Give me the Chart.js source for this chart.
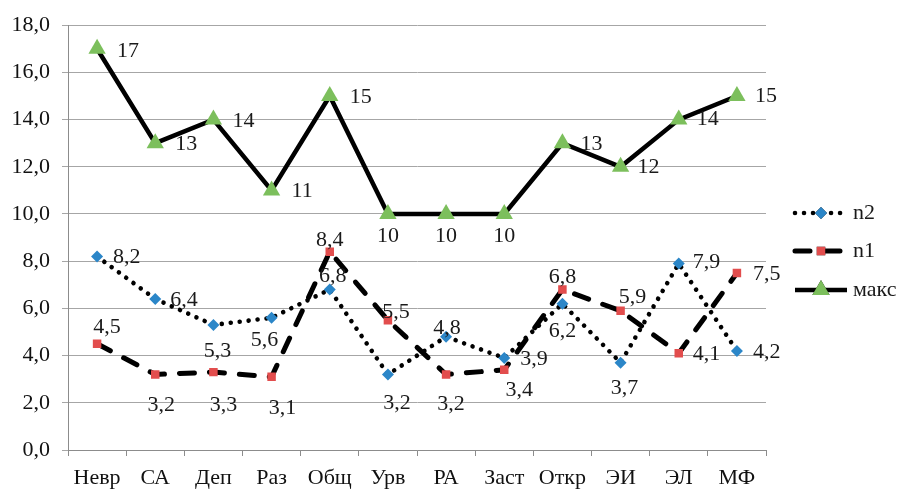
<!DOCTYPE html>
<html>
<head>
<meta charset="utf-8">
<script src="https://cdn.jsdelivr.net/npm/chart.js@4/dist/chart.umd.min.js"></script>
<style>
  html, body { margin: 0; padding: 0; background: #fff; }
  #wrap { width: 901px; height: 491px; position: relative; }
</style>
</head>
<body>
<div id="wrap"><canvas id="c" width="901" height="491"></canvas></div>
<script>
// Scale categories
const categories = ['Невр', 'СА', 'Деп', 'Раз', 'Общ', 'Урв', 'РА', 'Заст', 'Откр', 'ЭИ', 'ЭЛ', 'МФ'];

// Series values
const n2Values = [8.2, 6.4, 5.3, 5.6, 6.8, 3.2, 4.8, 3.9, 6.2, 3.7, 7.9, 4.2];
const n1Values = [4.5, 3.2, 3.3, 3.1, 8.4, 5.5, 3.2, 3.4, 6.8, 5.9, 4.1, 7.5];
const maxValues = [17, 13, 14, 11, 15, 10, 10, 10, 13, 12, 14, 15];

// Value axis
const yMin = 0, yMax = 18, yStep = 2;

// Where each value label sits relative to its point: [align, dx, dy]
// 'l' = text starts at dx, 'c' = text centred on dx
const n2LabelAt = [['l',16,1],['l',15,1],['c',4,26],['c',-7,22],['c',3,-13],['c',9,29],['c',1,-9],['l',16,1],['c',0,28],['c',4,26],['l',14,-1],['l',16,1]];
const n1LabelAt = [['c',10,-17],['c',6,31],['c',10,33],['c',11,31],['c',0,-12],['c',8,-8],['c',5,30],['c',15,20],['c',0,-12],['c',12,-14],['l',14,1],['l',16,1]];
const maxLabelAt = [['l',20,2],['l',20,1],['l',19,2],['l',20,1],['l',20,1],['c',0,22],['c',0,22],['c',0,22],['l',18,1],['l',17,0],['l',18,0],['l',18,0]];

const FONT = "'Liberation Serif', 'Times New Roman', serif";
const BLUE = '#2B86C8', RED = '#E24D4D', GREEN = '#7CBF5C';
const fmt = v => v.toFixed(1).replace('.', ',');
const fmtLabel = v => (Number.isInteger(v) ? String(v) : fmt(v));

const valueLabels = {
  id: 'valueLabels',
  afterDatasetsDraw(chart) {
    const ctx = chart.ctx;
    ctx.save();
    ctx.font = '22px ' + FONT;
    ctx.fillStyle = '#1a1a1a';
    ctx.textBaseline = 'middle';
    chart.data.datasets.forEach((ds, di) => {
      const meta = chart.getDatasetMeta(di);
      meta.data.forEach((pt, i) => {
        const [al, dx, dy] = ds.labelAt[i];
        ctx.textAlign = al === 'l' ? 'left' : 'center';
        ctx.fillText(fmtLabel(ds.data[i]), pt.x + dx, pt.y + dy);
      });
    });
    ctx.restore();
  }
};

const sideLegend = {
  id: 'sideLegend',
  afterDraw(chart) {
    const ctx = chart.ctx;
    const x0 = 795, x1 = 847, xm = 821, tx = 853;
    const rows = [213, 251, 290];
    chart.data.datasets.forEach((ds, di) => {
      const y = rows[di];
      ctx.save();
      ctx.strokeStyle = '#000';
      ctx.lineWidth = ds.borderWidth;
      ctx.lineCap = ds.borderCapStyle || 'butt';
      ctx.setLineDash(ds.borderDash || []);
      ctx.beginPath();
      ctx.moveTo(x0, y);
      ctx.lineTo(x1, y);
      ctx.stroke();
      ctx.setLineDash([]);
      Chart.helpers.drawPoint(ctx, {
        pointStyle: ds.pointStyle, radius: ds.pointRadius, rotation: 0, borderWidth: 0
      }, xm, y);
      ctx.fillStyle = ds.pointBackgroundColor;
      ctx.fill();
      ctx.font = '22px ' + FONT;
      ctx.fillStyle = '#1a1a1a';
      ctx.textAlign = 'left';
      ctx.textBaseline = 'middle';
      ctx.fillText(ds.label, tx, y);
      ctx.restore();
    });
  }
};

new Chart(document.getElementById('c'), {
  type: 'line',
  data: {
    labels: categories,
    datasets: [
      {
        label: 'n2', data: n2Values, labelAt: n2LabelAt,
        borderColor: '#000', borderWidth: 4.6, borderDash: [0.01, 9], borderCapStyle: 'round',
        pointStyle: 'rectRot', pointRadius: 6, pointBackgroundColor: BLUE, pointBorderWidth: 0,
        tension: 0, fill: false
      },
      {
        label: 'n1', data: n1Values, labelAt: n1LabelAt,
        borderColor: '#000', borderWidth: 5, borderDash: [15, 15], borderCapStyle: 'round',
        pointStyle: 'rect', pointRadius: 6, pointBackgroundColor: RED, pointBorderWidth: 0,
        tension: 0, fill: false
      },
      {
        label: 'макс', data: maxValues, labelAt: maxLabelAt,
        borderColor: '#000', borderWidth: 4.5, borderCapStyle: 'butt',
        pointStyle: 'triangle', pointRadius: 10, pointBackgroundColor: GREEN, pointBorderWidth: 0,
        tension: 0, fill: false
      }
    ]
  },
  options: {
    responsive: false,
    animation: false,
    events: [],
    layout: { padding: { left: 0, right: 135, top: 19, bottom: 0 } },
    plugins: { legend: { display: false }, tooltip: { enabled: false } },
    scales: {
      x: {
        type: 'category',
        offset: true,
        afterFit: s => { s.height = 41; },
        grid: { offset: true, drawOnChartArea: false, drawTicks: true, tickLength: 6, color: '#8c8c8c', lineWidth: 1 },
        border: { display: true, color: '#8c8c8c', width: 1 },
        ticks: { font: { family: FONT, size: 22 }, color: '#111', padding: 9, maxRotation: 0, autoSkip: false }
      },
      y: {
        min: yMin, max: yMax,
        afterFit: s => { s.width = 68; },
        grid: { color: '#a6a6a6', lineWidth: 1, drawTicks: true, tickLength: 6 },
        border: { display: true, color: '#8c8c8c', width: 1 },
        ticks: { stepSize: yStep, font: { family: FONT, size: 22 }, color: '#111', padding: 12, callback: v => fmt(v) }
      }
    }
  },
  plugins: [valueLabels, sideLegend]
});
</script>
</body>
</html>
